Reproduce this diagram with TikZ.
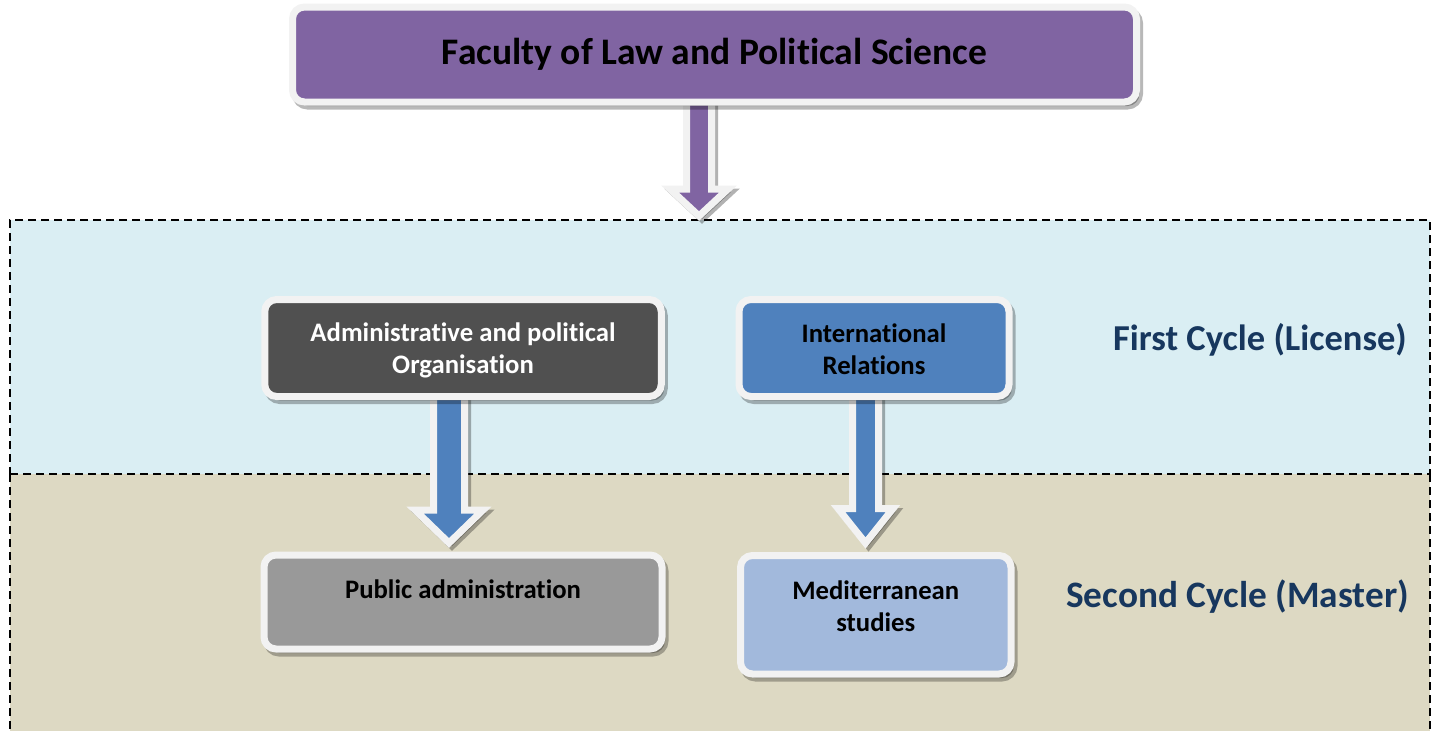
\documentclass[tikz,border=0pt]{standalone}
\usepackage{fontspec}
\setmainfont{Carlito}[Ligatures=NoCommon]
\usetikzlibrary{calc,shadows}
\definecolor{purp}{HTML}{8064A2}
\definecolor{darkbox}{HTML}{505050}
\definecolor{bluebox}{HTML}{4F81BD}
\definecolor{graybox}{HTML}{999999}
\definecolor{lightbox}{HTML}{A2B9DC}
\definecolor{regA}{HTML}{DAEEF3}
\definecolor{regB}{HTML}{DDD9C3}
\definecolor{navy}{HTML}{17375E}
\definecolor{outl}{HTML}{F2F2F2}
\newcommand\blockarrow[6]{%
  \path[#1] let \p1=#2, \p2=#3 in
    (\x1-#4pt,\y1) -- (\x1-#4pt,\y2+#6pt) -- (\x1-#5pt,\y2+#6pt) -- (\x1,\y2)
    -- (\x1+#5pt,\y2+#6pt) -- (\x1+#4pt,\y2+#6pt) -- (\x1+#4pt,\y1) -- cycle;}
\begin{document}
\begin{tikzpicture}[x=1pt,y=-1pt,
  dashline/.style={draw=black, line width=2.5pt, dash pattern=on 8pt off 5pt},
  region/.style={inner sep=0pt, outer sep=0pt, anchor=north west},
  box/.style={draw=outl, line width=7pt, rounded corners=12pt, inner sep=0pt, align=center,
    drop shadow={shadow xshift=3pt, shadow yshift=-4pt, fill=black, draw=black, line width=7pt, opacity=0.28}},
  boxfont/.style={font={\fontsize{26.7}{32}\selectfont\bfseries}},
  cyclefont/.style={font={\fontsize{36.5}{44}\selectfont\bfseries}, text=navy, anchor=base east, inner sep=0pt},
  blockarr/.style={draw=outl, line width=7pt, line join=miter,
    drop shadow={shadow xshift=3pt, shadow yshift=-3pt, fill=black, draw=black, line width=7pt, opacity=0.3}},
  lbl/.style={boxfont, text=black, align=center, inner sep=0pt}
]
\useasboundingbox (0,0) rectangle (1439,731);
% regions
\node[region, fill=regB, minimum width=1420pt, minimum height=257pt] (mas) at (10,474) {};
\node[region, fill=regA, dashline, minimum width=1420pt, minimum height=254pt] (lic) at (10,220) {};
\draw[dashline] (mas.north west) -- (mas.south west);
\draw[dashline] (mas.north east) -- (mas.south east);
% cycle labels
\node[cyclefont] (c1) at (1407,350) {First Cycle (License)};
\node[cyclefont, font={\fontsize{37.3}{44}\selectfont\bfseries}] (c2) at (1409,607) {Second Cycle (Master)};
% box positions
\coordinate (titleC) at (714.5,54.5);
\coordinate (adminC) at (463,348);
\coordinate (irC) at (874,348);
\coordinate (paC) at (463,602);
\coordinate (medC) at (875.75,614.75);
% arrows (drawn beneath the boxes)
\path (titleC) ++(0,47.5) coordinate (titleS);
\path (adminC) ++(0,48.5) coordinate (adminS);
\path (irC) ++(0,48.5) coordinate (irS);
\path (paC) ++(0,-47) coordinate (paN);
\path (medC) ++(0,-59.25) coordinate (medN);
\blockarrow{blockarr, fill=purp}{($(titleS)+(-15.5,-6)$)}{($(lic.north)+(0,-4)$)}{12.5}{29}{27}
\blockarrow{blockarr, fill=bluebox}{($(adminS)+(-14,-6)$)}{($(paN)+(0,-12)$)}{15.5}{34}{33}
\blockarrow{blockarr, fill=bluebox}{($(irS)+(-8.5,-6)$)}{($(medN)+(0,-12.5)$)}{13}{27.5}{34.5}
% boxes
\node[box, fill=purp, minimum width=844pt, minimum height=95pt,
  font={\fontsize{37.5}{45}\selectfont\bfseries}] (title) at (titleC) {Faculty of Law and Political Science};
\node[box, fill=darkbox, minimum width=396.5pt, minimum height=97pt] (admin) at (adminC) {};
\node[box, fill=bluebox, minimum width=270pt, minimum height=97pt] (ir) at (irC) {};
\node[box, fill=graybox, minimum width=398pt, minimum height=94pt] (pa) at (paC) {};
\node[box, fill=lightbox, minimum width=270.5pt, minimum height=118.5pt] (med) at (medC) {};
% box texts
\node[lbl, text=white] (adminT) at ($(admin.center)+(0,2)$) {Administrative and political\\Organisation};
\node[lbl] (irT) at ($(ir.center)+(0,1.5)$) {International\\Relations};
\node[lbl, anchor=base] (paT) at ($(pa.center)+(0,-4)$) {Public administration};
\node[lbl] (medT) at ($(med.center)+(0,-8.5)$) {Mediterranean\\studies};
\end{tikzpicture}
\end{document}
